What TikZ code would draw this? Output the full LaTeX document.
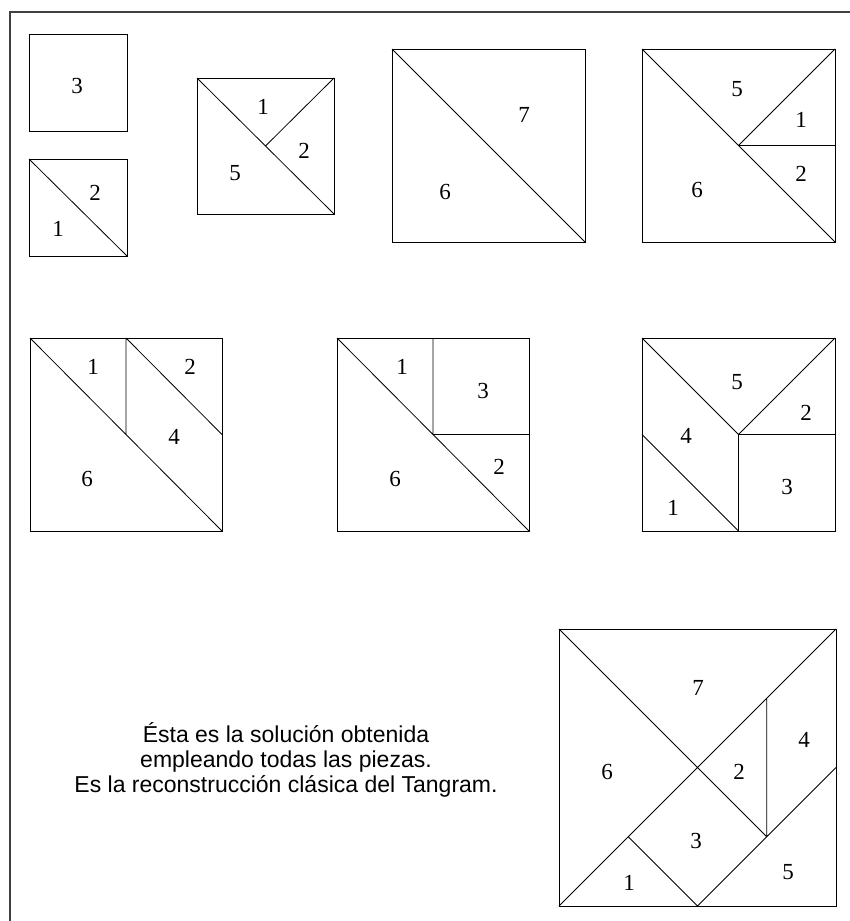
\documentclass[tikz,border=0pt]{standalone}
\usepackage{fontspec}
\setmainfont{Liberation Serif}
\newfontfamily\capfont{Liberation Sans}
\usetikzlibrary{positioning}

\begin{document}
\begin{tikzpicture}[x=1pt, y=-1pt,
    piece/.style={draw=black, line width=0.8pt},
    num/.style={font=\fontsize{23}{26}\selectfont, inner sep=0pt}]
        \useasboundingbox (0,0) rectangle (850,921);

        % Frame
        \draw[line width=1.6pt, black!75] (10,921) -- (10,12) -- (850,12);

        % Square 3
        \draw[piece] (29,34) rectangle (127,131);
        \node[num] (sqa3) at (77,86) {3};

        % Triangles 1 and 2
        \draw[piece] (29,159) rectangle (127,256);
        \draw[piece] (29,159) -- (127,256);
        \node[num] (sqb1) at (58,229) {1};
        \node[num] (sqb2) at (95,193) {2};

        % Pieces 1, 2, 5
        \draw[piece] (197,78) rectangle (334,214);
        \draw[piece] (197,78) -- (334,214) (265.5,146) -- (334,78);
        \node[num] (sqc1) at (263,107) {1};
        \node[num] (sqc2) at (304,151) {2};
        \node[num] (sqc5) at (235,173) {5};

        % Pieces 6, 7
        \draw[piece] (392,49) rectangle (585,242);
        \draw[piece] (392,49) -- (585,242);
        \node[num] (sqd7) at (524,115) {7};
        \node[num] (sqd6) at (445,192) {6};

        % Pieces 1, 2, 5, 6
        \draw[piece] (642,49) rectangle (835,242);
        \draw[piece] (642,49) -- (835,242) (738.5,145.5) -- (835,49) (738.5,145.5) -- (835,145.5);
        \node[num] (sqe5) at (737,89) {5};
        \node[num] (sqe1) at (801,120) {1};
        \node[num] (sqe2) at (801,174) {2};
        \node[num] (sqe6) at (697,190) {6};

        % Pieces 1, 2, 4, 6
        \draw[piece] (30,338) rectangle (222,531);
        \draw[piece] (30,338) -- (222,531) (126,338) -- (126,434.5) (126,338) -- (222,434.5);
        \node[num] (sqf1) at (93,367) {1};
        \node[num] (sqf2) at (190,367) {2};
        \node[num] (sqf4) at (174,437) {4};
        \node[num] (sqf6) at (87,479) {6};

        % Pieces 1, 2, 3, 6
        \draw[piece] (337,338) rectangle (529,531);
        \draw[piece] (337,338) -- (529,531) (433,338) -- (433,434.5) -- (529,434.5);
        \node[num] (sqg1) at (402,367) {1};
        \node[num] (sqg3) at (483,391) {3};
        \node[num] (sqg2) at (499,467) {2};
        \node[num] (sqg6) at (395,479) {6};

        % Pieces 1, 2, 3, 4, 5
        \draw[piece] (642,338) rectangle (835,531);
        \draw[piece] (642,338) -- (738.5,434.5) -- (835,338) (738.5,434.5) -- (835,434.5)
            (738.5,434.5) -- (738.5,531) (642,434.5) -- (738.5,531);
        \node[num] (sqh5) at (737,382) {5};
        \node[num] (sqh2) at (806,413) {2};
        \node[num] (sqh4) at (686,436) {4};
        \node[num] (sqh3) at (787,487) {3};
        \node[num] (sqh1) at (673,508) {1};

        % Full tangram
        \draw[piece] (559,629) rectangle (836,906);
        \draw[piece] (559,629) -- (766.75,836.75) (559,906) -- (836,629)
            (766.75,698.25) -- (766.75,836.75) -- (836,767.5)
            (766.75,836.75) -- (697.5,906) -- (628.25,836.75);
        \node[num] (tan7) at (698,688) {7};
        \node[num] (tan6) at (607,772) {6};
        \node[num] (tan2) at (739,772) {2};
        \node[num] (tan4) at (804,740) {4};
        \node[num] (tan3) at (696,841) {3};
        \node[num] (tan1) at (629,883) {1};
        \node[num] (tan5) at (788,872) {5};

        % Caption
        \node[font=\capfont\fontsize{23}{25}\selectfont, align=center, inner sep=0pt] (caption) at (286,760)
            {Ésta es la solución obtenida\\ empleando todas las piezas.\\ Es la reconstrucción clásica del Tangram.};
    \end{tikzpicture}
\end{document}
